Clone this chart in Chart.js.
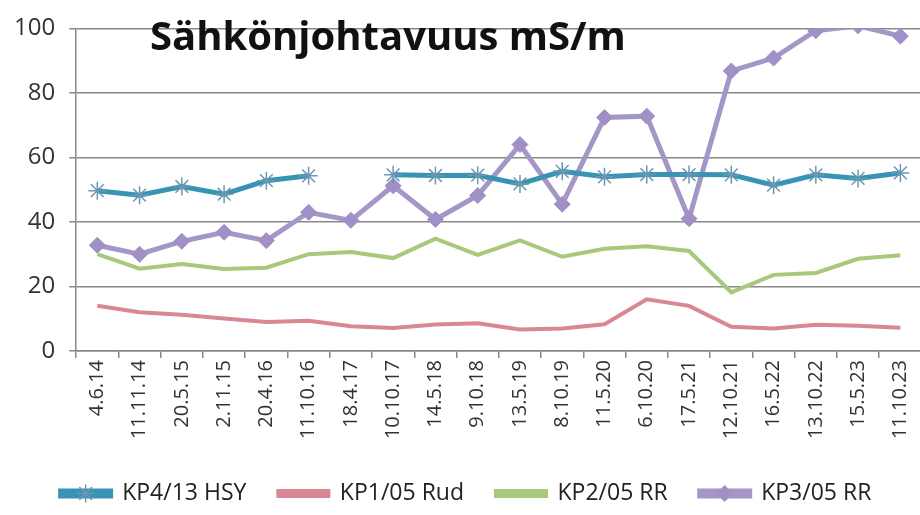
<!DOCTYPE html>
<html>
<head>
<meta charset="utf-8">
<script src="https://cdn.jsdelivr.net/npm/chart.js@4/dist/chart.umd.min.js"></script>
<style>
  html, body { margin: 0; padding: 0; background: #fff; overflow: hidden; }
  #wrap { position: relative; width: 920px; height: 515px; overflow: hidden; }
  #otsikko {
    position: absolute; left: 150px; top: 15px; line-height: 40px;
    font-family: "Open Sans", sans-serif; font-weight: bold; font-size: 40px;
    color: #111; white-space: nowrap;
  }
</style>
</head>
<body>
<div id="wrap">
  <canvas id="myChart" width="932" height="515"></canvas>
  <div id="otsikko">Sähkönjohtavuus mS/m</div>
</div>
<script>
const paivamaarat = ["4.6.14", "11.11.14", "20.5.15", "2.11.15", "20.4.16", "11.10.16", "18.4.17", "10.10.17",
    "14.5.18", "9.10.18", "13.5.19", "8.10.19", "11.5.20", "6.10.20", "17.5.21", "12.10.21",
    "16.5.22", "13.10.22", "15.5.23", "11.10.23"];

const kp4HSY = [49.7, 48.3, 51, 48.6, 52.8, 54.3, null, 54.6, 54.4, 54.5, 51.8, 55.7, 54, 54.7, 54.7, 54.6, 51.4, 54.6, 53.5, 55.2];
const kp1Rud = [14, 12, 11.2, 10.1, 9, 9.4, 7.7, 7.1, 8.2, 8.6, 6.7, 7, 8.3, 16, 14, 7.5, 7, 8.1, 7.8, 7.2];
const kp2RR = [30, 25.5, 27, 25.4, 25.8, 30, 30.7, 28.8, 34.8, 29.8, 34.3, 29.2, 31.7, 32.5, 31, 18.2, 23.6, 24.2, 28.6, 29.7];
const kp3RR = [32.8, 30, 34, 36.8, 34.2, 43, 40.5, 51.2, 40.8, 48.2, 64, 45.5, 72.4, 72.8, 41, 86.8, 90.8, 99.3, 100.8, 97.6];

const yTicks = [0, 20, 40, 60, 80, 100];

const fontti = "Open Sans";

// piirretään merkki myös selitteen viivan päälle (kuten Excelissä)
const legendMarker = {
    id: "legendMarker",
    afterDraw(chart) {
        const ctx = chart.ctx;
        const boxes = chart.legend.legendHitBoxes;
        const bw = chart.options.plugins.legend.labels.boxWidth;
        chart.legend.legendItems.forEach((item, i) => {
            const ds = chart.data.datasets[item.datasetIndex];
            if (!ds.pointRadius || !boxes[i]) return;
            const box = boxes[i];
            const x = box.left + bw / 2;
            const y = box.top + box.height / 2;
            ctx.save();
            ctx.fillStyle = ds.pointBackgroundColor;
            ctx.strokeStyle = ds.pointBorderColor;
            ctx.lineWidth = ds.pointBorderWidth;
            Chart.helpers.drawPoint(ctx, {
                pointStyle: ds.pointStyle,
                radius: ds.pointRadius,
                borderWidth: ds.pointBorderWidth,
                rotation: 0
            }, x, y);
            ctx.restore();
        });
    }
};

const myChart = new Chart("myChart", {
    type: "line",
    data: {
        labels: paivamaarat,
        datasets: [
            {
                label: "KP4/13 HSY",
                data: kp4HSY,
                borderColor: "#3993B5",
                backgroundColor: "#3993B5",
                borderWidth: 5,
                pointStyle: "star",
                pointRadius: 9,
                pointBorderWidth: 1.5,
                pointBorderColor: "#6a98b0",
                pointBackgroundColor: "#6a98b0",
                spanGaps: false,
            },
            {
                label: "KP1/05 Rud",
                data: kp1Rud,
                borderColor: "#D98893",
                backgroundColor: "#D98893",
                borderWidth: 4,
                pointRadius: 0,
            },
            {
                label: "KP2/05 RR",
                data: kp2RR,
                borderColor: "#A9C87B",
                backgroundColor: "#A9C87B",
                borderWidth: 4,
                pointRadius: 0,
            },
            {
                label: "KP3/05 RR",
                data: kp3RR,
                borderColor: "#A596C8",
                backgroundColor: "#A596C8",
                borderWidth: 5,
                pointStyle: "rectRot",
                pointRadius: 8,
                pointBorderWidth: 1,
                pointBorderColor: "#A090C6",
                pointBackgroundColor: "#A090C6",
            },
        ],
    },
    options: {
        responsive: false,
        animation: false,
        layout: { padding: { left: 0, top: 9, right: 0, bottom: 0 } },
        plugins: {
            legend: {
                position: "bottom",
                align: "center",
                labels: {
                    boxWidth: 50,
                    boxHeight: 5,
                    padding: 32,
                    color: "#222",
                    font: { family: fontti, size: 23 },
                },
            },
            tooltip: { enabled: false },
        },
        scales: {
            x: {
                offset: true,
                afterFit: (axis) => {
                    axis.height = 99;
                },
                grid: {
                    display: true,
                    drawOnChartArea: false,
                    offset: true,
                    color: "#888",
                    tickLength: 7,
                    lineWidth: 1.5,
                },
                border: { color: "#888", width: 1.5 },
                ticks: {
                    maxRotation: 90,
                    minRotation: 90,
                    autoSkip: false,
                    padding: 2,
                    color: "#333",
                    font: { family: fontti, size: 20 },
                },
            },
            y: {
                min: 0,
                max: 100,
                afterBuildTicks: (axis) => {
                    axis.ticks = yTicks.map((v) => ({ value: v }));
                },
                grid: {
                    color: "#888",
                    lineWidth: 1.5,
                    tickLength: 7,
                },
                border: { color: "#888", width: 1.5 },
                ticks: {
                    padding: 14,
                    color: "#333",
                    font: { family: fontti, size: 24 },
                },
            },
        },
    },
    plugins: [legendMarker],
});
</script>
</body>
</html>
